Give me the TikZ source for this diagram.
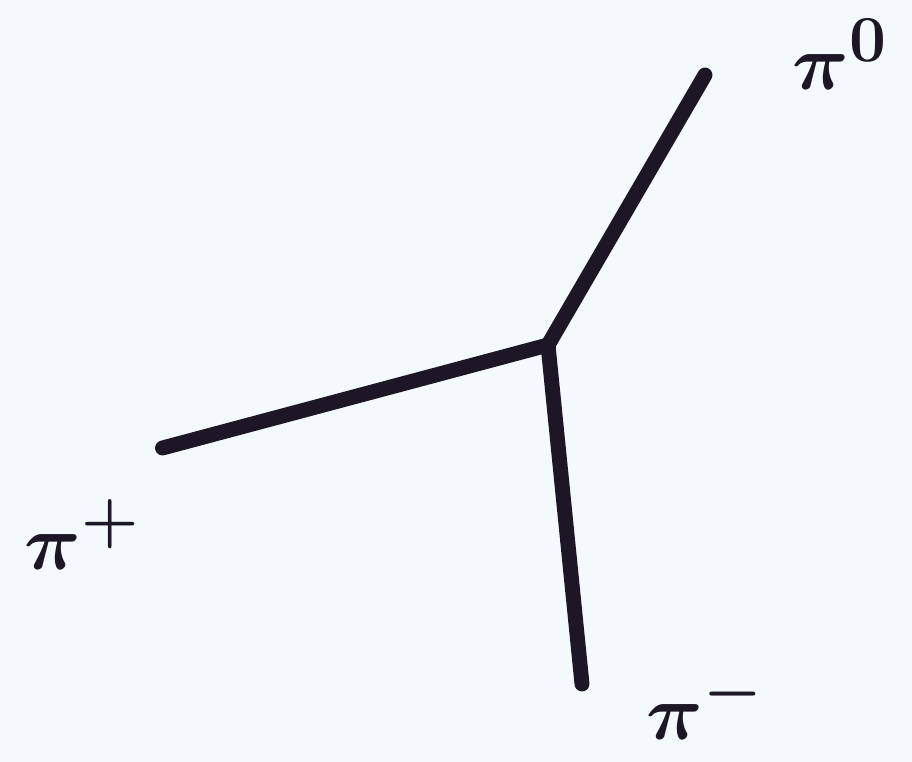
\documentclass[tikz,border=0pt]{standalone}
\usepackage{amsmath,amssymb}
\usepackage{xcolor}
\usetikzlibrary{positioning}
\definecolor{paper}{HTML}{F3F9FC}
\definecolor{ink}{HTML}{1C1626}

\begin{document}
\begin{tikzpicture}[
  pion/.style={
    line width=8.5pt, ink, line cap=round
  },
  lbl/.style={
    text=ink, inner sep=0pt, scale=1.8,
    font=\Huge\boldmath
  }]

% Paper background fixes the page size
\fill[paper] (0,0) rectangle (18.24,15.24);
\useasboundingbox (0,0) rectangle (18.24,15.24);

% Vertex and the free ends of the three pion lines
\coordinate (vtx) at (10.96,8.34);
\coordinate (zeroEnd) at (14.10,13.74);
\coordinate (plusEnd) at (3.25,6.28);
\coordinate (minusEnd) at (11.64,1.56);

% Pion lines
\draw[pion] (vtx) -- (zeroEnd);
\draw[pion] (vtx) -- (plusEnd);
\draw[pion] (vtx) -- (minusEnd);

% Labels
\node[lbl] (zeroLbl) at (16.80,14.15) {$\pi^{0}$};
\node[lbl] (plusLbl) at (1.65,4.55) {$\pi^{+}$};
\node[lbl] (minusLbl) at (14.10,1.15) {$\pi^{-}$};

\end{tikzpicture}
\end{document}
